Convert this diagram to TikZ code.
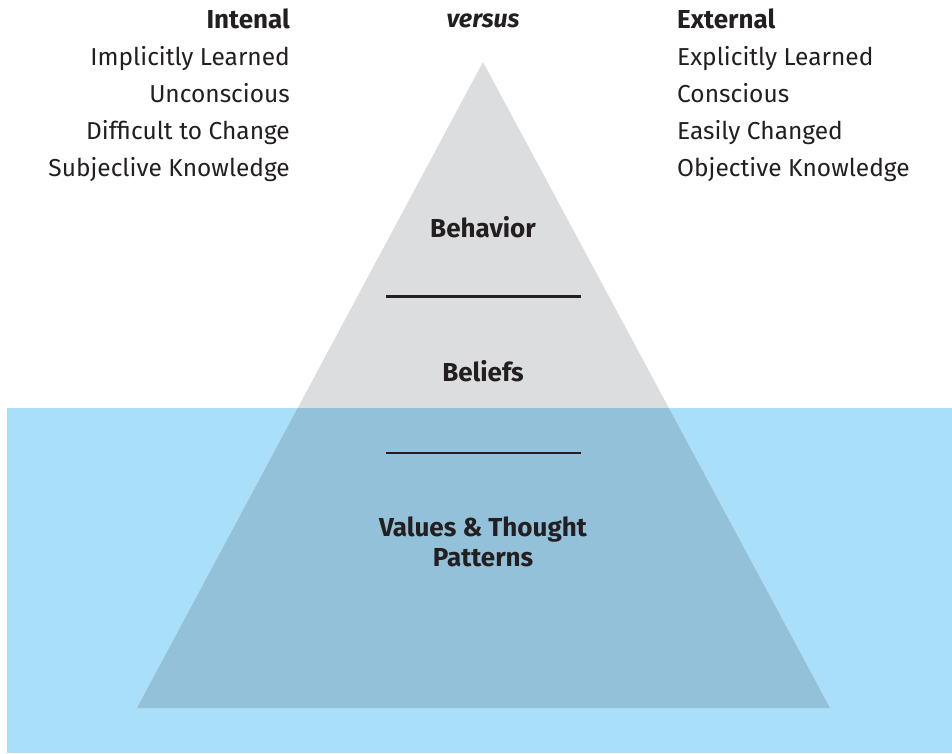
\documentclass[tikz,border=0pt]{standalone}
\usepackage{fontspec}
\setmainfont{Fira Sans}
\definecolor{pyrgray}{HTML}{DCDDDF}
\definecolor{seablue}{HTML}{A9DFF8}
\definecolor{overlap}{HTML}{92C1D9}
\definecolor{inkdark}{HTML}{231F20}
\tikzset{
  lbl/.style={inner sep=0pt, text=inkdark, font=\fontsize{24.5}{28}\selectfont},
  blbl/.style={lbl, font=\fontsize{26}{30}\selectfont\bfseries},
  rule/.style={draw=inkdark, line width=2.5pt}
}
\begin{document}
\begin{tikzpicture}[x=1pt,y=-1pt]
\useasboundingbox (0,0) rectangle (952,753);
\fill[white] (0,0) rectangle (952,753);
% water
\fill[seablue] (7,408) rectangle (952,753);
% pyramid
\coordinate (apex) at (483,62);
\coordinate (bl) at (137,708);
\coordinate (br) at (830,708);
\fill[pyrgray] (apex) -- (bl) -- (br) -- cycle;
\begin{scope}
  \clip (7,408) rectangle (952,753);
  \fill[overlap] (apex) -- (bl) -- (br) -- cycle;
\end{scope}
% dividers
\coordinate (r1a) at (386,296.5);
\coordinate (r1b) at (581,296.5);
\coordinate (r2a) at (386,453);
\coordinate (r2b) at (581,453);
\draw[rule] (r1a) -- (r1b);
\draw[rule] (r2a) -- (r2b);
% pyramid labels
\node[blbl, anchor=base] (beh) at (483,237) {Behavior};
\node[blbl, anchor=base] (bel) at (483,381) {Beliefs};
\node[blbl, anchor=base, align=center] (val) at (483,566) {Values \& Thought\\Patterns};
% header
\node[blbl, anchor=base, font=\fontsize{25}{28}\selectfont\bfseries\itshape] (vs) at (483,27) {versus};
% left column
\node[blbl, anchor=base east] (l0) at (290,28) {Intenal};
\node[lbl, anchor=base east] (l1) at (290,65) {Implicitly Learned};
\node[lbl, anchor=base east] (l2) at (290,102) {Unconscious};
\node[lbl, anchor=base east] (l3) at (290,139) {Difficult to Change};
\node[lbl, anchor=base east] (l4) at (290,176.5) {Subjeclive Knowledge};
% right column
\node[blbl, anchor=base west] (r0) at (677,28) {External};
\node[lbl, anchor=base west] (r1) at (677,65) {Explicitly Learned};
\node[lbl, anchor=base west] (r2) at (677,102) {Conscious};
\node[lbl, anchor=base west] (r3) at (677,139) {Easily Changed};
\node[lbl, anchor=base west] (r4) at (677,176.5) {Objective Knowledge};
\end{tikzpicture}
\end{document}
